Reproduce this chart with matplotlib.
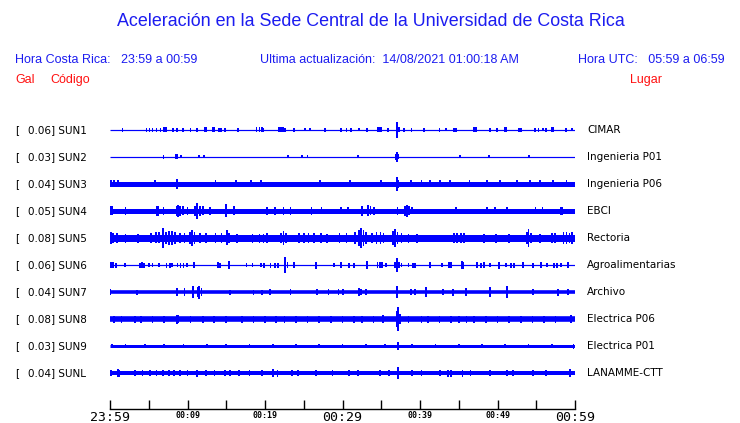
import matplotlib.pyplot as plt

# header texts
title = "Aceleración en la Sede Central de la Universidad de Costa Rica"
hora_cr = "Hora Costa Rica:   23:59 a 00:59"
actualizacion = "Ultima actualización:  14/08/2021 01:00:18 AM"
hora_utc = "Hora UTC:   05:59 a 06:59"

# stations
codes = ["SUN1", "SUN2", "SUN3", "SUN4", "SUN5", "SUN6", "SUN7", "SUN8", "SUN9", "SUNL"]
gal = [0.06, 0.03, 0.04, 0.05, 0.08, 0.06, 0.04, 0.08, 0.03, 0.04]
places = ["CIMAR", "Ingenieria P01", "Ingenieria P06", "EBCI", "Rectoria",
          "Agroalimentarias", "Archivo", "Electrica P06", "Electrica P01", "LANAMME-CTT"]

# time axis: minutes after 23:59
tick_min = list(range(0, 61, 5))
tick_lab = ["23:59", "", "00:09", "", "00:19", "", "00:29", "", "00:39", "", "00:49", "", "00:59"]

# background noise level of each trace (half envelope, counts)
base = [0.5, 0.5, 2.5, 2.5, 3.5, 0.5, 1.8, 2.8, 1.5, 2.0]

# bursts: (minute, half envelope in counts)
ev_sun1 = [(1.6, 2), (4.7, 2), (5.1, 2), (5.5, 2), (6.0, 2), (6.5, 2), (7.0, 2.5), (7.2, 2.5),
           (8.1, 2), (8.6, 2), (9.4, 2), (10.4, 2), (11.2, 2), (12.2, 2.5), (12.4, 2.5),
           (13.3, 2.5), (13.5, 2.5), (14.1, 2), (14.3, 2), (14.8, 2), (16.5, 2), (18.9, 2.5),
           (19.3, 2.5), (19.6, 2.5), (19.8, 2), (21.8, 2.5), (22.0, 2.5), (22.2, 2.5),
           (22.4, 2.5), (22.6, 2), (23.7, 2), (25.2, 1.5), (25.8, 1.5), (27.7, 2), (29.8, 2),
           (30.5, 2), (31.1, 2), (32.1, 1.5), (33.2, 2), (34.6, 2.5), (34.8, 2.5), (35.0, 2.5),
           (35.9, 2), (37.0, 8), (37.3, 2.5), (37.9, 2), (38.9, 2), (40.5, 2), (42.5, 2),
           (43.4, 1.5), (44.4, 2), (44.6, 2), (47.0, 2.5), (47.2, 2.5), (49.0, 2), (49.9, 2),
           (50.9, 2.5), (51.1, 2.5), (52.8, 2), (53.0, 2), (54.8, 2), (55.3, 2), (55.9, 1.5),
           (56.3, 2), (57.0, 2.5), (57.2, 2.5), (58.8, 2), (59.6, 1.5)]
ev_sun2 = [(6.9, 2), (8.5, 2.5), (8.7, 2.5), (9.2, 1.5), (11.5, 1.5), (12.1, 1.5), (23.0, 1.5),
           (24.8, 1.5), (25.5, 1.5), (32.0, 1.5), (36.9, 3), (37.0, 5), (37.2, 2.5), (45.2, 1.5),
           (48.9, 1.5), (54.1, 1.5)]
ev_sun3 = [(0.1, 3.5), (0.5, 3.5), (1.0, 3.5), (5.8, 3.5), (8.6, 5), (13.6, 3.5), (16.3, 3.5),
           (18.2, 3.5), (19.5, 3.5), (27.1, 3.5), (31.0, 3.5), (35.0, 3.5), (37.0, 7), (37.2, 4),
           (38.8, 3.5), (40.2, 3.5), (41.3, 3.5), (42.6, 3.5), (43.9, 3.5), (46.4, 3.5),
           (48.6, 3.5), (50.3, 3.5), (52.5, 3.5), (54.2, 3.5), (55.5, 3.5), (57.2, 3.5), (58.9, 3.5)]
ev_sun4 = [(0.1, 4.5), (0.3, 4.5), (2.0, 4), (6.0, 5), (6.2, 5), (6.9, 4), (8.6, 5), (8.8, 6),
           (9.0, 5), (9.4, 4.5), (10.0, 4), (11.0, 5), (11.2, 8), (11.6, 5), (12.0, 4.5),
           (12.9, 4), (15.0, 6.5), (16.0, 4.5), (20.3, 4), (21.3, 4), (22.4, 4), (23.3, 4),
           (26.0, 4), (27.3, 3.5), (29.8, 3.5), (30.7, 3.5), (32.5, 5), (33.3, 5.5), (33.6, 4.5),
           (34.1, 4), (37.1, 4), (38.1, 5), (38.3, 6), (38.6, 4.5), (39.0, 3.5), (44.6, 3.5),
           (48.6, 3.5), (49.7, 3.5), (51.2, 3.5), (54.9, 3.5), (55.8, 3.5), (58.2, 4), (58.4, 4)]
ev_sun5 = [(0.1, 6), (0.4, 5), (0.9, 5), (2.0, 4.5), (3.6, 4.5), (5.3, 5), (5.9, 5.5), (6.3, 5.5),
           (6.8, 10), (7.2, 6), (7.6, 7), (8.0, 7), (8.4, 6), (9.0, 5), (9.6, 5), (10.3, 6),
           (10.6, 8), (10.9, 6), (11.6, 5), (12.4, 5), (13.6, 5), (14.4, 5), (15.1, 7.5),
           (15.4, 5), (16.4, 4.5), (18.4, 4.5), (19.3, 4.5), (19.8, 4.5), (20.3, 5), (22.1, 5),
           (22.4, 7), (22.7, 5), (24.4, 5), (25.0, 5), (25.6, 5), (26.3, 5), (27.2, 5),
           (28.0, 4.5), (29.6, 5), (30.5, 5), (31.6, 6), (32.1, 8), (32.4, 10), (32.7, 8),
           (33.0, 6), (33.8, 5), (34.4, 6), (34.9, 6), (35.3, 5), (36.5, 7), (36.8, 9), (37.1, 6),
           (37.6, 5), (38.5, 4.5), (39.6, 4.5), (44.4, 5), (44.8, 5), (45.3, 5), (45.7, 5),
           (48.3, 4.5), (49.8, 4.5), (51.5, 4.5), (53.8, 6), (54.0, 9), (54.3, 5), (55.5, 4.5),
           (57.0, 5), (57.4, 5), (58.5, 6), (58.9, 6), (59.3, 5), (59.6, 6)]
ev_sun6 = [(0.1, 3), (0.4, 3), (0.8, 2.5), (1.9, 2), (3.9, 2.5), (4.1, 3), (4.4, 2.5), (5.0, 2),
           (5.5, 2), (6.3, 2), (7.3, 2.5), (7.7, 2.5), (8.0, 2), (8.7, 2), (9.1, 2.5), (9.5, 2.5),
           (9.9, 2), (10.8, 3), (13.9, 3), (14.2, 2.5), (15.4, 4), (17.6, 2), (18.4, 2),
           (19.5, 2), (19.9, 2.5), (20.7, 2.5), (21.3, 2.5), (21.7, 2.5), (22.6, 8), (22.9, 3),
           (23.7, 3), (26.6, 3.5), (28.9, 2), (29.8, 3), (30.8, 2.5), (31.5, 2.5), (33.2, 4),
           (34.5, 3), (34.8, 3), (35.1, 3), (35.6, 2), (36.8, 3), (37.0, 7), (37.3, 3), (37.6, 2),
           (38.5, 2), (39.1, 2.5), (39.4, 2.5), (41.3, 3), (42.8, 2), (43.7, 3), (44.0, 3),
           (45.4, 4), (45.6, 3.5), (47.4, 3), (47.9, 2.5), (48.3, 3), (49.0, 2), (50.2, 3.5),
           (51.1, 2), (51.7, 2.5), (52.1, 2.5), (53.3, 3), (54.6, 2.5), (55.6, 3), (56.4, 2),
           (57.3, 2.5), (57.7, 2.5), (58.2, 2), (59.1, 3)]
ev_sun7 = [(0.0, 3), (3.5, 2.5), (8.6, 4), (9.6, 4), (10.7, 6), (11.3, 5), (11.5, 6.5), (11.8, 4),
           (15.5, 2.5), (18.5, 2.5), (19.6, 2.5), (20.6, 3), (23.3, 3), (26.7, 3), (28.2, 3),
           (29.5, 3), (30.1, 3), (32.1, 4), (32.4, 3), (33.0, 3), (37.0, 6), (38.8, 3), (39.4, 3),
           (40.8, 5), (43.0, 3), (44.3, 3.5), (45.9, 4), (49.0, 5), (51.2, 6), (54.6, 3),
           (57.8, 3.5), (59.1, 3)]
ev_sun8 = [(0.5, 3.5), (1.5, 3.5), (3.2, 3.5), (4.0, 3.5), (5.5, 3.5), (7.0, 3.5), (8.6, 4.5),
           (8.8, 4), (10.4, 3.5), (12.0, 3.5), (13.4, 3.5), (15.0, 3.5), (17.0, 3.5), (18.5, 3.5),
           (20.0, 3.5), (21.4, 3.5), (22.5, 3.5), (24.0, 3.5), (25.5, 3.5), (27.0, 3.5),
           (28.5, 3.5), (30.0, 3.5), (31.5, 3.5), (32.5, 3.5), (34.0, 3.5), (35.2, 4), (37.0, 8),
           (37.2, 12), (37.4, 5), (38.5, 3.5), (40.2, 3.5), (41.0, 3.5), (42.5, 3.5), (44.0, 3.5),
           (45.0, 3.5), (46.0, 3.5), (47.0, 3.5), (48.5, 3.5), (50.0, 3.5), (51.5, 3.5),
           (53.0, 3.5), (54.5, 3.5), (56.0, 3.5), (57.5, 3.5), (59.5, 4)]
ev_sun9 = [(0.3, 2.2), (2.0, 2.2), (4.5, 2.2), (7.0, 2.2), (9.5, 2.2), (12.5, 2.2), (15.0, 2.2),
           (18.0, 2.2), (21.0, 2.2), (24.0, 2.2), (27.0, 2.2), (30.0, 2.2), (33.0, 2.2),
           (35.5, 2.2), (37.1, 3), (37.2, 4), (39.0, 2.2), (42.0, 2.2), (45.0, 2.2), (48.0, 2.2),
           (51.0, 2.2), (54.0, 2.2), (57.0, 2.2), (59.8, 2.5)]
ev_sunl = [(0.1, 3), (1.0, 4), (1.2, 3.5), (3.2, 3), (4.2, 3), (5.2, 3), (6.0, 3), (6.8, 3),
           (7.6, 3), (8.3, 3), (9.0, 3), (10.0, 3), (11.2, 3.5), (12.4, 3), (13.5, 3), (14.8, 3),
           (15.5, 3), (16.6, 3), (18.0, 3), (19.6, 3), (21.0, 4), (21.6, 3.5), (23.5, 3),
           (24.3, 3), (26.6, 3), (28.7, 3), (30.8, 3), (32.0, 3), (34.8, 3), (36.0, 3), (37.2, 6),
           (39.0, 3), (40.2, 3), (42.6, 3), (43.6, 3.5), (44.0, 3.5), (45.5, 3.5), (46.5, 3),
           (49.0, 3), (51.2, 3), (52.0, 3), (54.6, 3), (56.3, 3), (59.4, 4)]
events = [ev_sun1, ev_sun2, ev_sun3, ev_sun4, ev_sun5, ev_sun6, ev_sun7, ev_sun8, ev_sun9, ev_sunl]

BLUE = "#0000ff"
TXTBLUE = "#1c1cf0"
RED = "#ff1010"
W, H = 740, 423
ROW = 27.0  # counts between two traces


def fx(px):
    return px / W


def fy(py):
    return 1 - py / H


fig = plt.figure(figsize=(7.4, 4.23), dpi=100)

# header
hfont = dict(family="Liberation Sans")
fig.text(fx(371), fy(22), title, ha="center", va="center", color=TXTBLUE, fontsize=12.9, **hfont)
fig.text(fx(15), fy(60), hora_cr, ha="left", va="center", color=TXTBLUE, fontsize=9, **hfont)
fig.text(fx(260), fy(60), actualizacion, ha="left", va="center", color=TXTBLUE, fontsize=9, **hfont)
fig.text(fx(725), fy(60), hora_utc, ha="right", va="center", color=TXTBLUE, fontsize=9, **hfont)
fig.text(fx(15), fy(80), "Gal", ha="left", va="center", color=RED, fontsize=9, **hfont)
fig.text(fx(50), fy(80), "Código", ha="left", va="center", color=RED, fontsize=9, **hfont)
fig.text(fx(662), fy(80), "Lugar", ha="right", va="center", color=RED, fontsize=9, **hfont)

# traces
ax = fig.add_axes([fx(110), fy(409), (575 - 110) / W, (409 - 116) / H])
ax.set_xlim(0, 60)
top = 14 / ROW
ax.set_ylim(top - (409 - 116) / ROW, top)

for i in range(len(codes)):
    y0 = -i
    # noise band as a thick line, width in points (1 count = 1 px at 100 dpi)
    ax.hlines(y0, 0, 60, color=BLUE, lw=max(2 * base[i], 1.2) * 0.72)
    t = [e[0] for e in events[i]]
    a = [e[1] / ROW for e in events[i]]
    ax.bar(t, [2 * v for v in a], bottom=[y0 - v for v in a], width=0.22,
           color=BLUE, lw=0)
    py = 130 + i * ROW
    fig.text(fx(15), fy(py), "[", ha="left", va="center", fontsize=7.5)
    fig.text(fx(28), fy(py), "%.2f] %s" % (gal[i], codes[i]), ha="left", va="center", fontsize=7.5)
    fig.text(fx(587), fy(py), places[i], ha="left", va="center", fontsize=7.5)

for s in ["top", "left", "right"]:
    ax.spines[s].set_visible(False)
ax.spines["bottom"].set_linewidth(1.0)
ax.set_yticks([])
ax.set_xticks(tick_min)
ax.set_xticklabels(tick_lab)
ax.tick_params(axis="x", direction="in", length=6.5, width=1.0, pad=1.5)
for m, lab in zip(tick_min, ax.get_xticklabels()):
    lab.set_fontfamily("DejaVu Sans Mono")
    if m % 30 == 0:
        lab.set_fontsize(9.5)
    else:
        lab.set_fontsize(6)
        lab.set_fontweight("bold")

fig.savefig("out.png", dpi=100)
